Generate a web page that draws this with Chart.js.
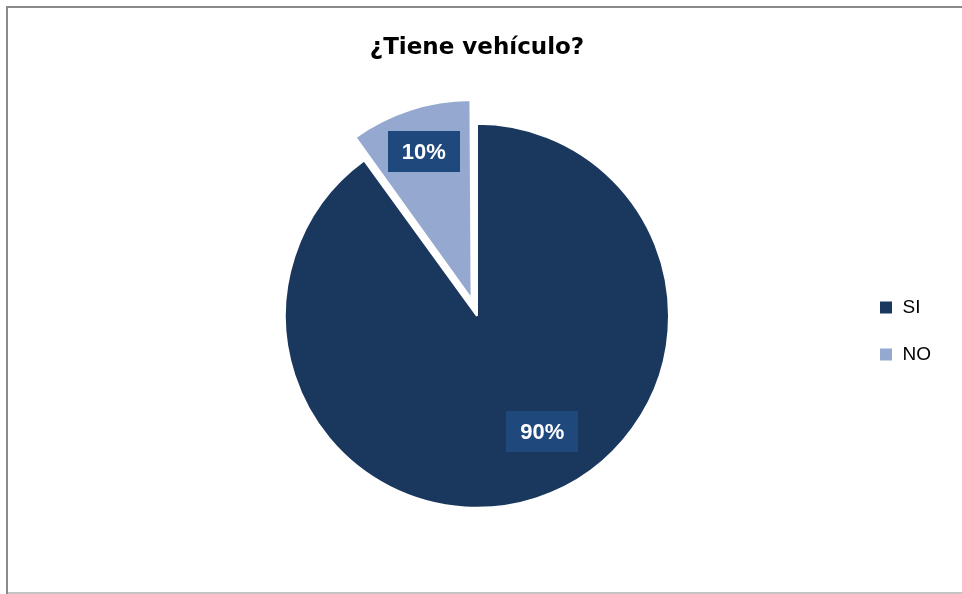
<!DOCTYPE html>
<html lang="es">
<head>
<meta charset="utf-8">
<title>¿Tiene vehículo?</title>
<script src="https://cdn.jsdelivr.net/npm/chart.js@4.4.1/dist/chart.umd.min.js"></script>
<style>
    html, body { margin: 0; padding: 0; background: #ffffff; }
    #vehiculoChart { display: block; }
</style>
</head>
<body>
<canvas id="vehiculoChart" width="962" height="594"></canvas>
<script>
// Data
const respuestas = ['SI', 'NO'];
const porcentajes = [90, 10];
const etiquetas = ['90%', '10%'];
const colores = ['#1a375e', '#95a9d0'];

/**
 * Draws the outer frame of the chart (left/top grey, bottom light grey)
 */
const framePlugin = {
    id: 'frame',
    beforeDraw(chart) {
        const ctx = chart.ctx;
        ctx.save();
        ctx.fillStyle = '#8a8a8a';
        ctx.fillRect(6, 6, chart.width - 6, 2);
        ctx.fillRect(6, 6, 2, chart.height - 6);
        ctx.fillStyle = '#c4c4c4';
        ctx.fillRect(8, chart.height - 2, chart.width - 8, 2);
        ctx.restore();
    }
};

/**
 * Draws boxed percentage labels on each slice
 */
const sliceLabelPlugin = {
    id: 'sliceLabels',
    afterDatasetsDraw(chart, args, opts) {
        const ctx = chart.ctx;
        const meta = chart.getDatasetMeta(0);
        meta.data.forEach((arc, i) => {
            const p = arc.getProps(['x', 'y', 'startAngle', 'endAngle', 'outerRadius'], true);
            const shift = (arc.options.offset || 0) / 4;
            const half = (p.startAngle + p.endAngle) / 2;
            const cx = p.x + Math.cos(half) * shift;
            const cy = p.y + Math.sin(half) * shift;
            const place = opts.placement[i];
            const angle = p.startAngle + (p.endAngle - p.startAngle) * place.t;
            const r = p.outerRadius * place.r;
            const lx = cx + Math.cos(angle) * r;
            const ly = cy + Math.sin(angle) * r;

            ctx.save();
            ctx.font = 'bold 22px "Liberation Sans", Arial, sans-serif';
            const w = ctx.measureText(etiquetas[i]).width + 28;
            const h = 41;
            ctx.fillStyle = '#1f497d';
            ctx.fillRect(Math.round(lx - w / 2), Math.round(ly - h / 2), Math.round(w), h);
            ctx.fillStyle = '#ffffff';
            ctx.textAlign = 'center';
            ctx.textBaseline = 'middle';
            ctx.fillText(etiquetas[i], lx, ly + 1);
            ctx.restore();
        });
    }
};

const ctx = document.getElementById('vehiculoChart');

new Chart(ctx, {
    type: 'pie',
    data: {
        labels: respuestas,
        datasets: [{
            data: porcentajes,
            backgroundColor: colores,
            borderColor: '#ffffff',
            borderWidth: 2,
            offset: [0, 70]
        }]
    },
    options: {
        responsive: false,
        animation: false,
        devicePixelRatio: 1,
        radius: 192,
        layout: {
            padding: { left: 103, right: 21, top: 0, bottom: 24 }
        },
        plugins: {
            title: {
                display: true,
                text: '¿Tiene vehículo?',
                fullSize: false,
                color: '#000000',
                font: { family: '"DejaVu Sans", sans-serif', size: 23, weight: 'bold', lineHeight: 1.2 },
                padding: { top: 34, bottom: 0 }
            },
            legend: {
                position: 'right',
                align: 'center',
                title: {
                    display: true,
                    text: '',
                    font: { size: 10, lineHeight: 1.2 },
                    padding: { top: 80, bottom: 0 }
                },
                labels: {
                    color: '#000000',
                    boxWidth: 14,
                    boxHeight: 14,
                    padding: 28,
                    font: { family: '"Liberation Sans", Arial, sans-serif', size: 19 }
                }
            },
            tooltip: { enabled: false },
            sliceLabels: {
                placement: [
                    { t: 0.465, r: 0.693 },
                    { t: 0.5, r: 0.807 }
                ]
            }
        }
    },
    plugins: [framePlugin, sliceLabelPlugin]
});
</script>
</body>
</html>
